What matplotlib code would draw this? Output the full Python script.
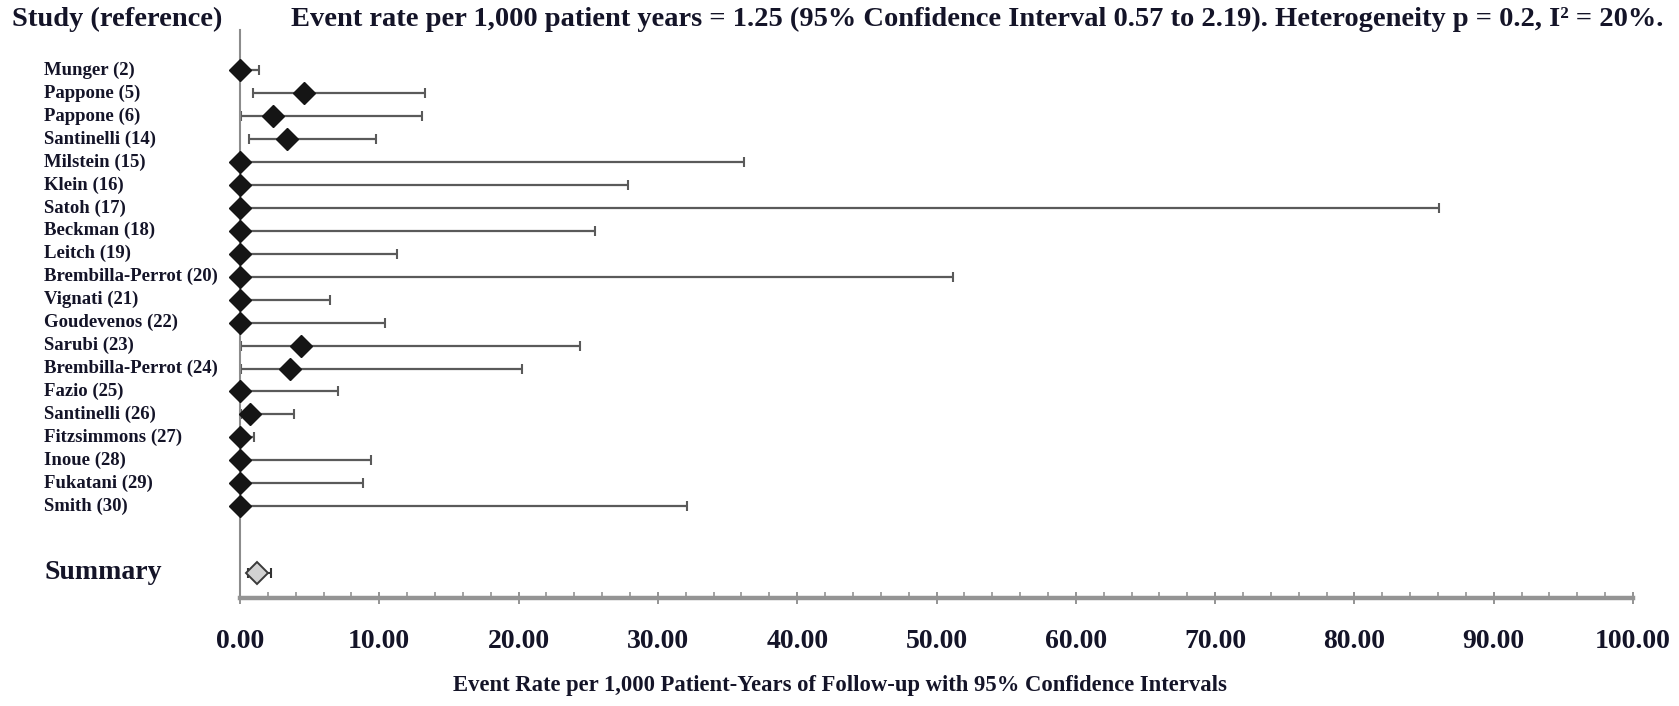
import matplotlib
matplotlib.use("Agg")
import matplotlib.pyplot as plt
from matplotlib.ticker import MultipleLocator, FormatStrFormatter
from matplotlib.transforms import blended_transform_factory

# Event rates per 1,000 patient-years with 95% CI, one row per study
studies = ["Munger (2)", "Pappone (5)", "Pappone (6)", "Santinelli (14)", "Milstein (15)",
           "Klein (16)", "Satoh (17)", "Beckman (18)", "Leitch (19)", "Brembilla-Perrot (20)",
           "Vignati (21)", "Goudevenos (22)", "Sarubi (23)", "Brembilla-Perrot (24)", "Fazio (25)",
           "Santinelli (26)", "Fitzsimmons (27)", "Inoue (28)", "Fukatani (29)", "Smith (30)"]
rate = [0, 4.58, 2.38, 3.39, 0, 0, 0, 0, 0, 0,
        0, 0, 4.39, 3.58, 0, 0.71, 0, 0, 0, 0]
lower = [0, 0.95, 0.06, 0.66, 0, 0, 0, 0, 0, 0,
         0, 0, 0.10, 0.09, 0, 0.09, 0, 0, 0, 0]
upper = [1.38, 13.25, 13.08, 9.73, 36.17, 27.84, 86.1, 25.5, 11.26, 51.2,
         6.45, 10.4, 24.4, 20.26, 7.02, 3.91, 0.99, 9.37, 8.82, 32.1]

summary_rate = 1.25
summary_lower = 0.57
summary_upper = 2.19

title = ("Event rate per 1,000 patient years = 1.25 (95% Confidence Interval 0.57 to 2.19). "
         "Heterogeneity p = 0.2, I\u00b2 = 20%.")
xlabel = "Event Rate per 1,000 Patient-Years of Follow-up with 95% Confidence Intervals"

serif = "Liberation Serif"
ink = "#141428"
axis_grey = "#949494"

fig = plt.figure(figsize=(16.79, 7.06), dpi=100)
ax = fig.add_axes([240 / 1679, 1 - 598 / 706, (1633 - 240) / 1679, (598 - 30) / 706])

rows = list(range(len(studies)))
summary_row = 21.9

# study confidence intervals and point estimates
for y, r, lo, hi in zip(rows, rate, lower, upper):
    ax.errorbar([r], [y], xerr=[[r - lo], [hi - r]], fmt="none", ecolor="#5a5a5a",
                elinewidth=1.6, capsize=3.8, capthick=1.5, zorder=2, clip_on=False)
ax.plot(rate, rows, linestyle="none", marker="D", markersize=11.5, color="#151515",
        markeredgecolor="#151515", zorder=4, clip_on=False)

# pooled estimate
ax.errorbar([summary_rate], [summary_row],
            xerr=[[summary_rate - summary_lower], [summary_upper - summary_rate]],
            fmt="none", ecolor="#333333", elinewidth=1.5, capsize=3.8, capthick=1.5, zorder=2)
ax.plot([summary_rate], [summary_row], linestyle="none", marker="D", markersize=11,
        color="#d2d2d2", markeredgecolor="#3a3a3a", markeredgewidth=1.4, zorder=4, clip_on=False)

ax.set_xlim(0, 100)
ax.set_ylim(23, -1.75)
ax.set_yticks([])

for side in ("top", "right"):
    ax.spines[side].set_visible(False)
ax.spines["left"].set_color("#8c8c8c")
ax.spines["left"].set_linewidth(1.5)
ax.spines["bottom"].set_color(axis_grey)
ax.spines["bottom"].set_linewidth(3.2)

ax.xaxis.set_major_locator(MultipleLocator(10))
ax.xaxis.set_minor_locator(MultipleLocator(2))
ax.xaxis.set_major_formatter(FormatStrFormatter("%.2f"))
ax.tick_params(axis="x", which="major", direction="inout", length=8, width=1.4,
               color=axis_grey, pad=18, labelsize=20, labelcolor=ink)
ax.tick_params(axis="x", which="minor", direction="in", length=4, width=1.2, color=axis_grey)
for lbl in ax.get_xticklabels():
    lbl.set_fontfamily(serif)
    lbl.set_fontweight("bold")

# study names on the left, aligned with their rows
trans = blended_transform_factory(fig.transFigure, ax.transData)
for y, name in zip(rows, studies):
    ax.text(44 / 1679, y, name, transform=trans, ha="left", va="center",
            fontsize=13.5, fontfamily=serif, fontweight="bold", color=ink)
ax.text(44 / 1679, summary_row, "Summary", transform=trans, ha="left", va="center",
        fontsize=20, fontfamily=serif, fontweight="bold", color=ink)

fig.text(12 / 1679, 1 - 19 / 706, "Study (reference)", ha="left", va="center",
         fontsize=20.5, fontfamily=serif, fontweight="bold", color=ink)
fig.text(291 / 1679, 1 - 19 / 706, title, ha="left", va="center",
         fontsize=20.5, fontfamily=serif, fontweight="bold", color=ink)
fig.text(0.5, 1 - 686 / 706, xlabel, ha="center", va="center",
         fontsize=16.3, fontfamily=serif, fontweight="bold", color=ink)

fig.savefig("out.png", dpi=100)
